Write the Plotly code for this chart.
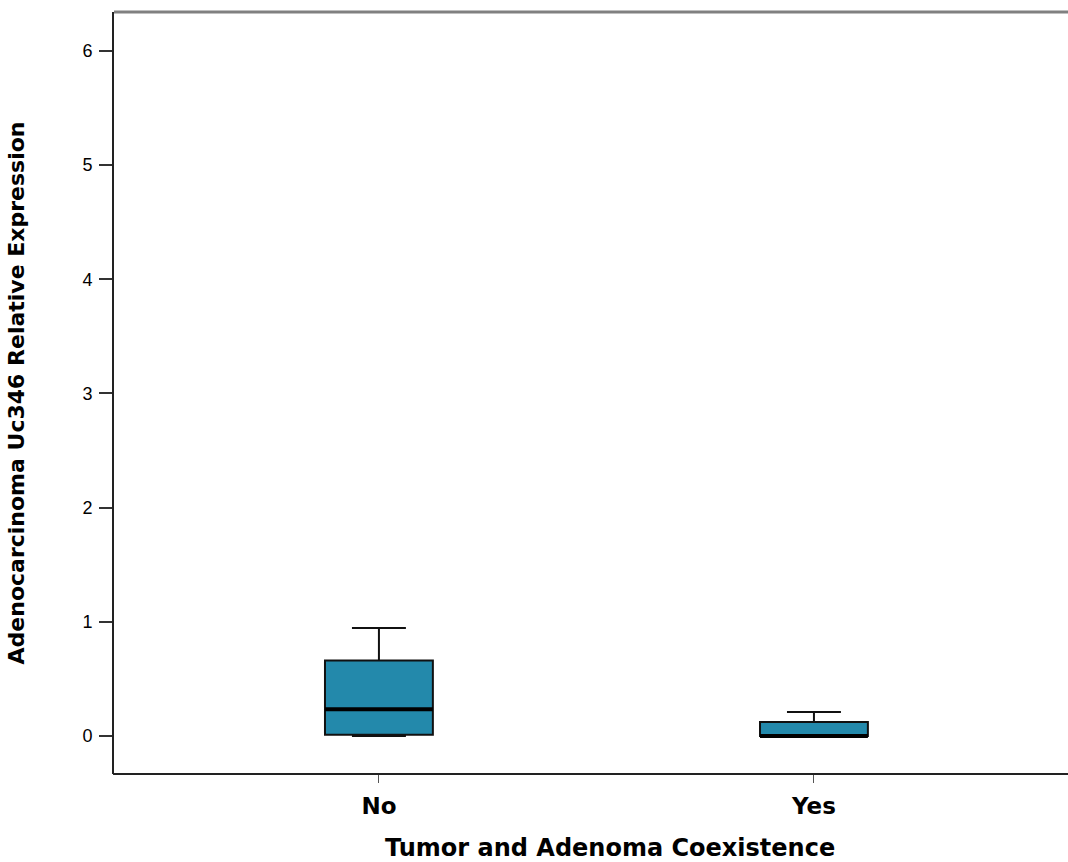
import plotly.graph_objects as go

categories = ["No", "Yes"]
positions = [0, 1]
lower_whisker = [0.0, 0.0]
q1 = [0.01, 0.0]
median = [0.235, 0.0]
q3 = [0.66, 0.122]
upper_whisker = [0.945, 0.21]
y_ticks = [0, 1, 2, 3, 4, 5, 6]

box_width = 0.248
fill = "#2389ab"
title_font = "DejaVu Sans, Verdana, sans-serif"

fig = go.Figure()
fig.add_trace(go.Box(
    x=positions, q1=q1, median=median, q3=q3,
    lowerfence=lower_whisker, upperfence=upper_whisker,
    width=box_width, whiskerwidth=0.5,
    fillcolor=fill, line=dict(color="#111111", width=2),
    boxpoints=False, hoverinfo="skip", showlegend=False,
))
# thicker median lines
for p, m in zip(positions, median):
    fig.add_trace(go.Scatter(
        x=[p - box_width / 2, p + box_width / 2], y=[m, m],
        mode="lines", line=dict(color="black", width=4),
        showlegend=False, hoverinfo="skip",
    ))

fig.update_layout(
    width=1068, height=862,
    margin=dict(l=114, r=0, t=12, b=88),
    paper_bgcolor="white", plot_bgcolor="white",
    font=dict(family="Liberation Sans, Arial, sans-serif", color="black"),
    xaxis=dict(
        range=[-0.609, 1.584], tickmode="array", tickvals=positions,
        ticktext=["<b>%s</b>" % c for c in categories],
        showgrid=False, zeroline=False, showline=False,
        ticks="outside", ticklen=8, tickcolor="#555555", tickwidth=1,
        ticklabelstandoff=3,
        tickfont=dict(size=23, family=title_font),
    ),
    yaxis=dict(
        range=[-0.333, 6.34], tickmode="array", tickvals=y_ticks,
        showgrid=False, zeroline=False, showline=True, linecolor="#222222", linewidth=2,
        ticks="outside", ticklen=13, tickcolor="#333333", tickwidth=2,
        ticklabelstandoff=3,
        tickfont=dict(size=18),
        title=dict(text="<b>Adenocarcinoma Uc346 Relative Expression</b>",
                   font=dict(size=22, family=title_font), standoff=52),
    ),
    shapes=[
        dict(type="line", xref="paper", yref="paper", x0=0, x1=1, y0=1, y1=1,
             line=dict(color="#808080", width=3)),
        dict(type="line", xref="paper", yref="paper", x0=-0.001, x1=1.0, y0=0, y1=0,
             line=dict(color="#222222", width=2)),
    ],
    annotations=[dict(
        text="<b>Tumor and Adenoma Coexistence</b>", xref="paper", yref="paper",
        x=0.52, y=0, yshift=-74, xanchor="center", yanchor="middle", showarrow=False,
        font=dict(size=24, family=title_font),
    )],
)
fig.write_html("out.html", config={"displayModeBar": False},
               post_script="document.body.style.margin='0';document.body.style.overflow='hidden';")
